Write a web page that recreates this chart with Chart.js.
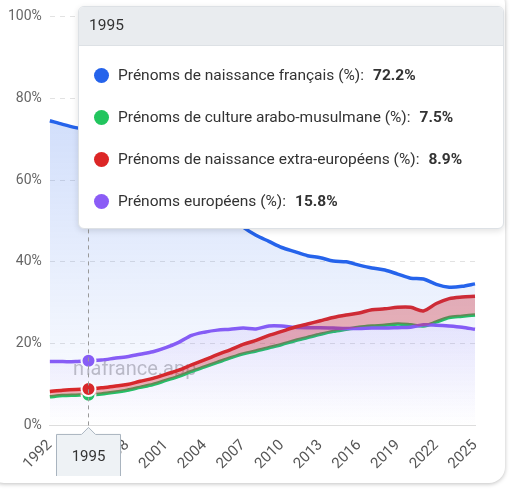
<!DOCTYPE html>
<html>
<head>
<meta charset="utf-8">
<script src="https://cdn.jsdelivr.net/npm/chart.js@4"></script>
<style>
  body { margin: 0; background: #fff; font-family: Roboto, sans-serif; }
  #card { position: absolute; left: -12px; top: -12px; width: 517px; height: 495px; border-radius: 16px;
          box-shadow: 0 1px 4px rgba(0,0,0,0.25); background: #fff; }
  #wrap { position: absolute; left: 12px; top: 12px; width: 493px; height: 476px; }
  #tip { position: absolute; background: #fff; border: 1px solid #dde1e5; border-radius: 6px;
         box-shadow: 0 2px 6px rgba(0,0,0,0.12); font-size: 15.5px; color: #333; overflow: hidden; }
  #tip .head { background: #e9ecef; padding: 9px 10px; height: 20px; border-bottom: 1px solid #dde1e5; }
  #tip .row { display: flex; align-items: center; height: 42px; padding-left: 15px; padding-right: 10px; }
  #tip .dot { width: 15px; height: 15px; border-radius: 50%; margin-right: 9px; }
  #tip b { margin-left: 9px; color: #333; }
</style>
</head>
<body>
<div id="card"><div id="wrap"><canvas id="chart"></canvas></div></div>
<div id="tip"></div>
<script>
const years = [];
for (let y = 1992; y <= 2025; y++) years.push(String(y));

const seriesNames = [
    "Prénoms de naissance français (%)",
    "Prénoms de culture arabo-musulmane (%)",
    "Prénoms de naissance extra-européens (%)",
    "Prénoms européens (%)"
];

const francais = [74.5, 73.6, 72.8, 72.2, 71.5, 70.5, 69.5, 68.5, 67, 65, 62.5, 60, 57, 54, 51, 48.5,
    46.5, 45, 43.5, 42.5, 41.5, 41, 40.2, 40, 39.2, 38.5, 38, 37, 36, 35.8, 34.5, 33.8, 34, 34.6];
const arabo = [7.0, 7.3, 7.4, 7.5, 7.7, 8.1, 8.6, 9.3, 10, 11, 12, 13.2, 14.3, 15.4, 16.5, 17.5,
    18.2, 19, 19.8, 20.7, 21.5, 22.3, 23, 23.5, 24, 24.3, 24.5, 24.8, 24.6, 24.3, 25.3, 26.4, 26.7, 27];
const extra = [8.3, 8.6, 8.8, 8.9, 9.2, 9.6, 10, 10.8, 11.5, 12.5, 13.5, 14.8, 16, 17.3, 18.5, 19.8,
    20.8, 22, 23, 24, 24.8, 25.6, 26.4, 27, 27.5, 28.3, 28.5, 28.9, 28.9, 28, 29.8, 31, 31.4, 31.6];
const europeens = [15.6, 15.6, 15.6, 15.8, 16, 16.4, 16.8, 17.4, 18, 19, 20.3, 22, 22.8, 23.3, 23.5, 23.8,
    23.6, 24.3, 24.3, 24, 23.9, 23.9, 23.8, 23.7, 23.7, 23.8, 23.8, 23.9, 24, 24.6, 24.5, 24.3, 24, 23.5];

const colors = ["#2563eb", "#22c55e", "#dc2626", "#8b5cf6"];
const activeIndex = 3;

function grad(ctx, top, bottom) {
    const area = ctx.chart.chartArea;
    if (!area) return top;
    const g = ctx.chart.ctx.createLinearGradient(0, area.top, 0, area.bottom);
    g.addColorStop(0, top);
    g.addColorStop(1, bottom);
    return g;
}

const extras = {
    id: "extras",
    beforeDatasetsDraw(chart) {
        const c = chart.ctx;
        c.save();
        c.font = "20px Roboto";
        c.fillStyle = "rgba(120,120,120,0.45)";
        c.fillText("mafrance.app", 73, 375);
        c.restore();
    },
    afterDraw(chart) {
        const c = chart.ctx;
        const x = chart.scales.x.getPixelForValue(activeIndex);
        const a = chart.chartArea;
        c.save();
        c.strokeStyle = "#999";
        c.setLineDash([4, 4]);
        c.beginPath();
        c.moveTo(x, a.top + 5);
        c.lineTo(x, a.bottom);
        c.stroke();
        c.setLineDash([]);
        const w = 64, h = 46, y = a.bottom + 9;
        c.fillStyle = "#eef2f5";
        c.strokeStyle = "#a9b4bf";
        c.beginPath();
        c.moveTo(x - w / 2, y);
        c.lineTo(x - 7, y);
        c.lineTo(x, y - 7);
        c.lineTo(x + 7, y);
        c.lineTo(x + w / 2, y);
        c.lineTo(x + w / 2, y + h);
        c.lineTo(x - w / 2, y + h);
        c.closePath();
        c.fill();
        c.stroke();
        c.fillStyle = "#333";
        c.font = "15px Roboto";
        c.textAlign = "center";
        c.textBaseline = "middle";
        c.fillText(years[activeIndex], x, y + h / 2);
        c.restore();
    }
};

function externalTip(context) {
    const tip = document.getElementById("tip");
    const t = context.tooltip;
    if (!t.dataPoints || !t.dataPoints.length) return;
    const pts = t.dataPoints.slice().sort((a, b) => a.datasetIndex - b.datasetIndex);
    let html = '<div class="head">' + pts[0].label + '</div><div style="padding:8px 0 6px">';
    pts.forEach(p => {
        html += '<div class="row"><span class="dot" style="background:' + colors[p.datasetIndex] + '"></span>' +
            p.dataset.label + ':<b>' + p.parsed.y.toFixed(1) + '%</b></div>';
    });
    html += '</div>';
    tip.innerHTML = html;
    tip.style.left = "78px";
    tip.style.top = "6px";
    tip.style.width = "424px";
}

const chart = new Chart(document.getElementById("chart"), {
    type: "line",
    data: {
        labels: years,
        datasets: [
            { label: seriesNames[0], data: francais, borderColor: colors[0], fill: "origin",
              backgroundColor: ctx => grad(ctx, "rgba(37,99,235,0.28)", "rgba(37,99,235,0.0)") },
            { label: seriesNames[1], data: arabo, borderColor: colors[1], fill: false, order: 1,
              backgroundColor: colors[1] },
            { label: seriesNames[2], data: extra, borderColor: colors[2], fill: 1,
              backgroundColor: "rgba(220,38,38,0.35)" },
            { label: seriesNames[3], data: europeens, borderColor: colors[3], fill: "origin",
              backgroundColor: ctx => grad(ctx, "rgba(139,92,246,0.45)", "rgba(139,92,246,0.0)") }
        ]
    },
    options: {
        responsive: true,
        maintainAspectRatio: false,
        animation: false,
        layout: { padding: { left: 0, right: 18, top: 2, bottom: 0 } },
        interaction: { mode: "index", intersect: false },
        elements: {
            line: { borderWidth: 3.5, tension: 0.3 },
            point: { radius: 0, hoverRadius: 7, hoverBorderWidth: 2, hoverBorderColor: "#fff",
                     hoverBackgroundColor: ctx => colors[ctx.datasetIndex] }
        },
        scales: {
            x: {
                grid: { display: false },
                border: { color: "#ddd" },
                ticks: {
                    color: "#555", font: { size: 15, family: "Roboto" }, maxRotation: 45, minRotation: 45,
                    autoSkip: false,
                    callback: function (v, i) { return i % 3 === 0 ? this.getLabelForValue(v) : ""; }
                }
            },
            y: {
                min: 0, max: 100,
                border: { display: false, dash: [5, 5] },
                grid: { color: "#e2e2e2", drawTicks: false },
                ticks: { stepSize: 20, color: "#666", padding: 8, font: { size: 14, family: "Roboto" },
                         callback: v => v + "%" }
            }
        },
        plugins: {
            legend: { display: false },
            tooltip: { enabled: false, external: externalTip }
        }
    },
    plugins: [extras]
});

const act = [0, 1, 2, 3].map(d => ({ datasetIndex: d, index: activeIndex }));
chart.setActiveElements(act);
chart.tooltip.setActiveElements(act, { x: 0, y: 0 });
chart.update();
</script>
</body>
</html>
